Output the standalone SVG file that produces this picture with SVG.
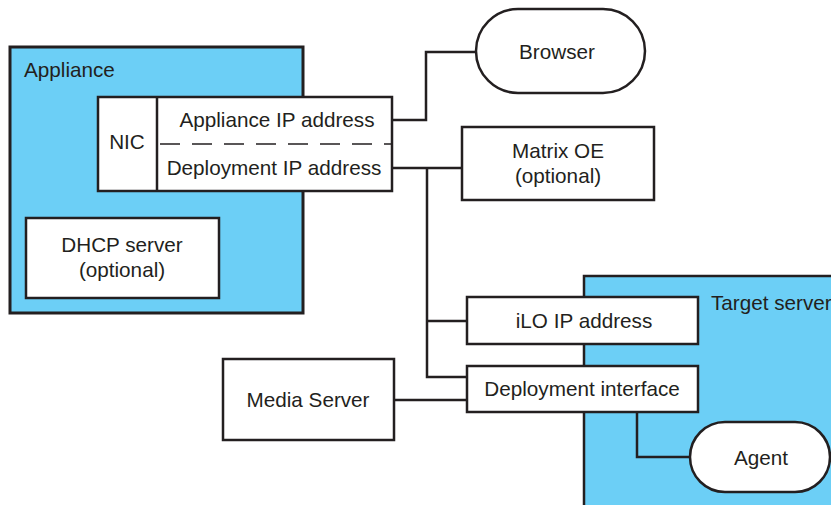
<svg xmlns="http://www.w3.org/2000/svg" width="831" height="505" viewBox="0 0 831 505">
<style>
.c{fill:#6ccff6;stroke:#231f20;stroke-width:3}
.b{fill:#fff;stroke:#231f20;stroke-width:2.5}
.l{fill:none;stroke:#231f20;stroke-width:2.5}
text{font-family:"Liberation Sans",Arial,sans-serif;font-size:20.7px;fill:#231f20;text-anchor:middle}
.s{text-anchor:start}
</style>
<rect width="831" height="505" fill="#fff"/>
<g id="appliance">
<rect class="c" x="10" y="47" width="293" height="266" stroke-width="3.5"/>
<text class="s" x="24" y="77">Appliance</text>
</g>
<g id="target-server">
<path d="M584 276H831V505H584Z" fill="#6ccff6"/>
<path d="M584 505V276H831" class="l"/>
<text class="s" x="711" y="310">Target server</text>
</g>
<g id="connectors">
<path class="l" d="M392 120H426V52H476"/>
<path class="l" d="M392 168H462"/>
<path class="l" d="M427 168V377H467"/>
<path class="l" d="M427 321H467"/>
<path class="l" d="M394 400H467"/>
<path class="l" d="M637 412V457H690"/>
</g>
<g id="nic">
<rect class="b" x="98" y="97" width="294" height="94"/>
<line class="l" x1="157" y1="97" x2="157" y2="191"/>
<line x1="160" y1="144" x2="392" y2="144" stroke="#231f20" stroke-width="1.5" stroke-dasharray="20,12"/>
<text x="127" y="149">NIC</text>
<text x="277" y="127">Appliance IP address</text>
<text x="274" y="175">Deployment IP address</text>
</g>
<g id="dhcp">
<rect class="b" x="26" y="218" width="193" height="80"/>
<text x="122" y="252">DHCP server</text>
<text x="122" y="277">(optional)</text>
</g>
<g id="browser">
<rect class="b" x="476" y="9" width="169" height="84" rx="42"/>
<text x="557" y="59">Browser</text>
</g>
<g id="matrix-oe">
<rect class="b" x="462" y="127" width="192" height="73"/>
<text x="558" y="158">Matrix OE</text>
<text x="558" y="183">(optional)</text>
</g>
<g id="ilo">
<rect class="b" x="467" y="297" width="231" height="47"/>
<text x="584" y="328">iLO IP address</text>
</g>
<g id="deployment-interface">
<rect class="b" x="467" y="366" width="231" height="46"/>
<text x="582" y="396">Deployment interface</text>
</g>
<g id="media-server">
<rect class="b" x="223" y="359" width="171" height="81"/>
<text x="308" y="407">Media Server</text>
</g>
<g id="agent">
<rect class="b" x="690" y="422" width="140" height="70" rx="35"/>
<text x="761" y="465">Agent</text>
</g>
</svg>
